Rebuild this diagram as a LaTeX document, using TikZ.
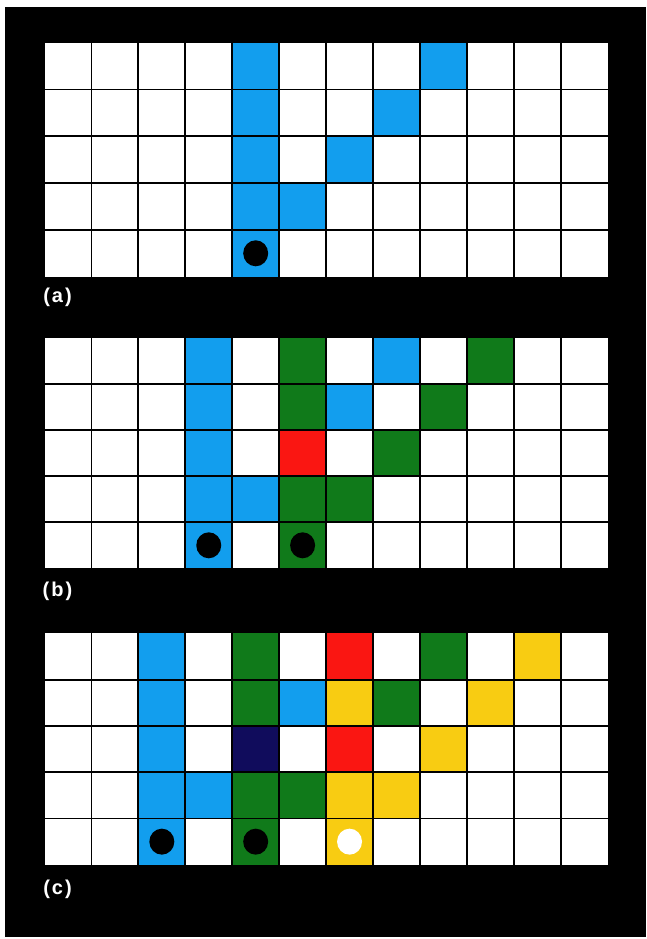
\documentclass[tikz,border=0pt]{standalone}
\usepackage{fontspec}
\setsansfont{Liberation Sans}

\definecolor{cellblue}{RGB}{18,158,238}
\definecolor{cellgreen}{RGB}{16,122,26}
\definecolor{cellred}{RGB}{250,22,18}
\definecolor{cellyellow}{RGB}{248,204,18}
\definecolor{cellnavy}{RGB}{16,12,92}

% grid lines of one 12 x 5 board (board units)
\newcommand{\gridlines}{%
  \foreach \i in {1,...,11} \draw[gridline] (\i,0) -- (\i,5);
  \foreach \j in {1,...,4} \draw[gridline] (0,\j) -- (12,\j);
}
% spaced panel label
\newcommand{\paneltag}[1]{(\kern2pt#1\kern2pt)}

\begin{document}
\begin{tikzpicture}[
    x=1pt, y=-1pt,
    gridline/.style={black, line width=1.8pt},
    token/.style={x radius=12.5pt, y radius=13pt},
    tag/.style={text=white, font=\sffamily\bfseries\fontsize{20}{24}\selectfont, inner sep=0pt}
]
\useasboundingbox (0,0) rectangle (646,939);
\fill[white] (0,0) rectangle (646,939);
\fill[black] (5,7) rectangle (646,937);

% --- board (a) ---
\begin{scope}[shift={(44.5,42.7)}, x=46.93pt, y=-46.8pt]
  \fill[white] (0,0) rectangle (12,5);
  \foreach \c/\r/\col in {4/0/cellblue, 4/1/cellblue, 4/2/cellblue, 4/3/cellblue, 4/4/cellblue,
      5/3/cellblue, 6/2/cellblue, 7/1/cellblue, 8/0/cellblue}
    \fill[\col] (\c,\r) rectangle ++(1,1);
  \gridlines
  \fill[black] (4.5,4.5) circle [token];
\end{scope}
\node (taga) [tag] at (57.5,297.5) {\paneltag{a}};

% --- board (b) ---
\begin{scope}[shift={(44.5,338.3)}, x=46.93pt, y=-46pt]
  \fill[white] (0,0) rectangle (12,5);
  \foreach \c/\r/\col in {3/0/cellblue, 3/1/cellblue, 3/2/cellblue, 3/3/cellblue, 3/4/cellblue,
      4/3/cellblue, 6/1/cellblue, 7/0/cellblue,
      5/0/cellgreen, 5/1/cellgreen, 5/2/cellred, 5/3/cellgreen, 5/4/cellgreen,
      6/3/cellgreen, 7/2/cellgreen, 8/1/cellgreen, 9/0/cellgreen}
    \fill[\col] (\c,\r) rectangle ++(1,1);
  \gridlines
  \fill[black] (3.5,4.5) circle [token];
  \fill[black] (5.5,4.5) circle [token];
\end{scope}
\node (tagb) [tag] at (57.5,591) {\paneltag{b}};

% --- board (c) ---
\begin{scope}[shift={(44.5,633.3)}, x=46.93pt, y=-46.3pt]
  \fill[white] (0,0) rectangle (12,5);
  \foreach \c/\r/\col in {2/0/cellblue, 2/1/cellblue, 2/2/cellblue, 2/3/cellblue, 2/4/cellblue,
      3/3/cellblue, 5/1/cellblue,
      4/0/cellgreen, 4/1/cellgreen, 4/2/cellnavy, 4/3/cellgreen, 4/4/cellgreen,
      5/3/cellgreen, 7/1/cellgreen, 8/0/cellgreen,
      6/0/cellred, 6/1/cellyellow, 6/2/cellred, 6/3/cellyellow, 6/4/cellyellow,
      7/3/cellyellow, 8/2/cellyellow, 9/1/cellyellow, 10/0/cellyellow}
    \fill[\col] (\c,\r) rectangle ++(1,1);
  \gridlines
  \fill[black] (2.5,4.5) circle [token];
  \fill[black] (4.5,4.5) circle [token];
  \fill[white] (6.5,4.5) circle [token];
\end{scope}
\node (tagc) [tag] at (57.5,889.5) {\paneltag{c}};

\end{tikzpicture}
\end{document}
